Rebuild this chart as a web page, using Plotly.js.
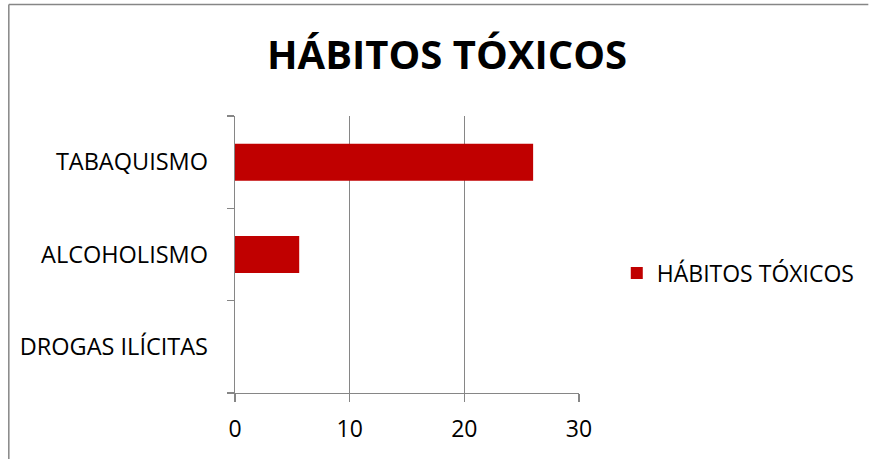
<!DOCTYPE html>
<html>
<head>
<meta charset="utf-8">
<script src="https://cdn.plot.ly/plotly-3.0.1.min.js"></script>
<style>
  html, body { margin: 0; padding: 0; background: #ffffff; }
  #chart { width: 872px; height: 459px; }
</style>
</head>
<body>
<div id="chart"></div>
<script>
// Categories listed bottom-to-top, as the horizontal bar axis stacks them
const categories = ['DROGAS ILÍCITAS', 'ALCOHOLISMO', 'TABAQUISMO'];
const values = [0, 5.6, 26];
const seriesName = 'HÁBITOS TÓXICOS';
const chartTitle = 'HÁBITOS TÓXICOS';
const xTicks = [0, 10, 20, 30];

const W = 872, H = 459;
const margin = { l: 235, r: 291, t: 116, b: 66 };
const plotW = W - margin.l - margin.r;
const plotH = H - margin.t - margin.b;
// pixel -> paper helpers for the frame lines and legend placement
const px = x => (x - margin.l) / plotW;
const py = y => (H - margin.b - y) / plotH;

const grey = '#868686';
const fontFamily = '"Open Sans", "Noto Sans", sans-serif';

const trace = {
  type: 'bar',
  orientation: 'h',
  x: values,
  y: categories,
  name: seriesName,
  marker: { color: '#C00000', line: { width: 0 } },
  hoverinfo: 'x+y'
};

const layout = {
  width: W,
  height: H,
  margin: margin,
  paper_bgcolor: '#ffffff',
  plot_bgcolor: '#ffffff',
  font: { family: fontFamily, color: '#000000', size: 23 },
  title: {
    text: '<b>' + chartTitle + '</b>',
    font: { family: fontFamily, size: 40, color: '#000000' },
    x: 447 / W,
    xanchor: 'center',
    y: 1 - 55 / H,
    yanchor: 'middle'
  },
  bargap: 0.6,
  showlegend: true,
  legend: {
    x: px(619),
    xanchor: 'left',
    y: py(273),
    yanchor: 'middle',
    font: { family: fontFamily, size: 23, color: '#000000' },
    bgcolor: 'rgba(0,0,0,0)',
    borderwidth: 0
  },
  xaxis: {
    range: [0, 30],
    tickvals: xTicks,
    ticktext: xTicks.map(String),
    ticks: 'outside',
    ticklen: 8,
    tickwidth: 1.3,
    tickcolor: grey,
    showline: true,
    linecolor: grey,
    linewidth: 1.3,
    showgrid: true,
    gridcolor: grey,
    gridwidth: 1.3,
    zeroline: false,
    tickfont: { family: fontFamily, size: 23, color: '#000000' },
    ticklabelstandoff: 7,
    fixedrange: true
  },
  yaxis: {
    type: 'category',
    categoryorder: 'array',
    categoryarray: categories,
    ticks: 'outside',
    tickson: 'boundaries',
    ticklen: 7,
    tickwidth: 1.3,
    tickcolor: grey,
    showline: true,
    linecolor: grey,
    linewidth: 1.3,
    showgrid: false,
    zeroline: false,
    tickfont: { family: fontFamily, size: 23.5, color: '#000000' },
    ticklabelstandoff: 21,
    fixedrange: true
  },
  shapes: [
    // outer frame: top and left edges
    { type: 'line', xref: 'paper', yref: 'paper', x0: px(7.5), x1: px(W), y0: py(4.5), y1: py(4.5),
      line: { color: grey, width: 1.5 } },
    { type: 'line', xref: 'paper', yref: 'paper', x0: px(7.5), x1: px(7.5), y0: py(4.5), y1: py(H),
      line: { color: grey, width: 1.5 } }
  ]
};

Plotly.newPlot('chart', [trace], layout, { displayModeBar: false, staticPlot: true });
</script>
</body>
</html>
